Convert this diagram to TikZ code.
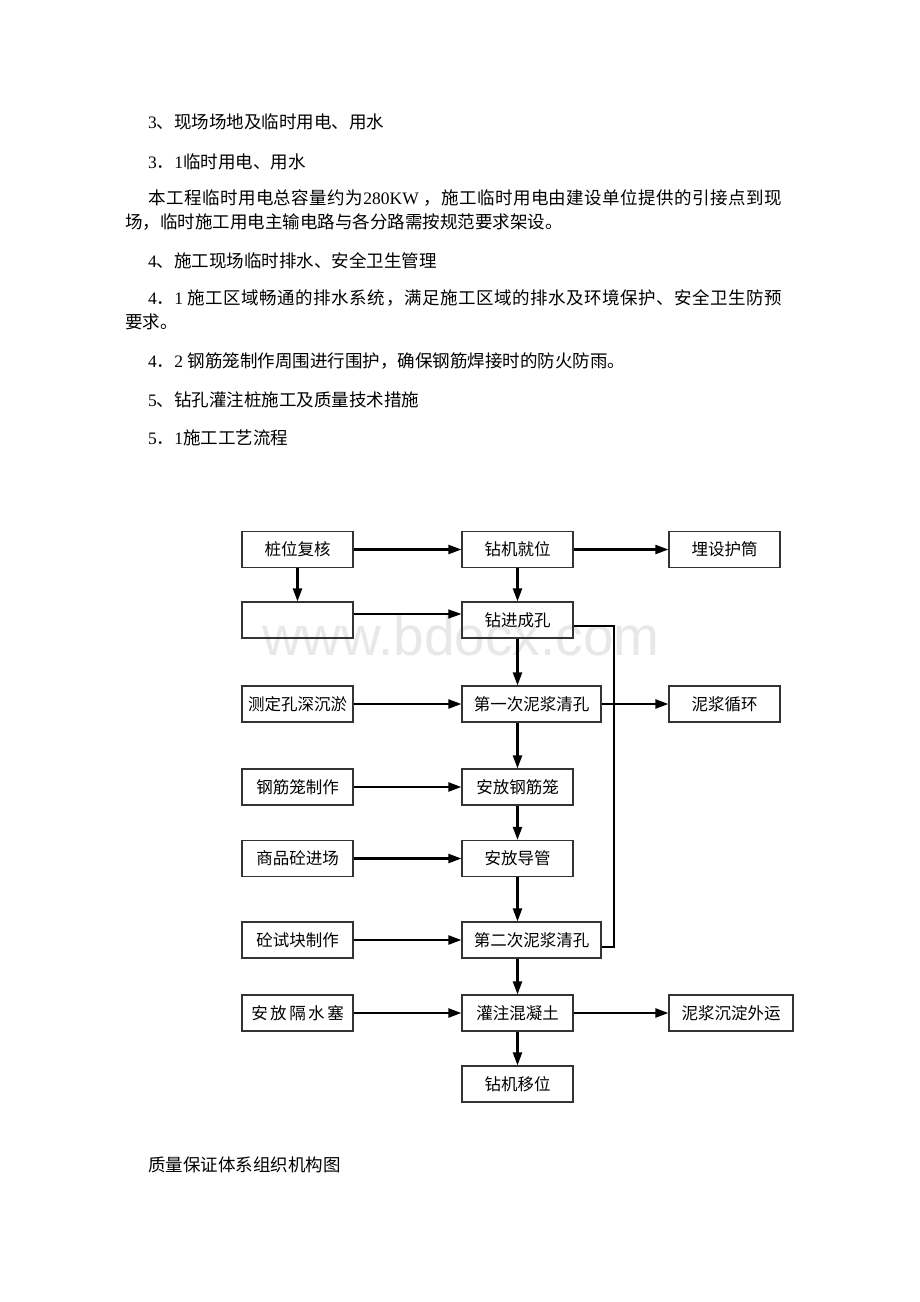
\documentclass[tikz,border=0pt]{standalone}
\usepackage{fontspec}
\setmainfont{Noto Sans CJK SC}
\newfontfamily\tnr{Liberation Serif}
\newfontfamily\wmfont{Liberation Sans}
\usetikzlibrary{arrows.meta}
\tikzset{
  flowbox/.style={draw=black!80, line width=1.2pt, minimum width=111pt, minimum height=36pt,
    inner sep=0pt, font=\fontsize{16.5}{18}\selectfont},
  widebox/.style={flowbox, minimum width=139pt},
  flowarr/.style={line width=2.2pt, -{Triangle[length=13pt,width=9pt]}},
  bodytext/.style={anchor=base west, inner sep=0pt, font=\fontsize{17.5}{20}\selectfont}
}
\begin{document}
\begin{tikzpicture}[x=1pt,y=-1pt]
\useasboundingbox[fill=white] (0,0) rectangle (920,1302);

\node[anchor=base west, inner sep=0pt, text=black!9, font=\wmfont\fontsize{55}{60}\selectfont]
  (wm) at (262,655) {www.bdocx.com};

\node[bodytext] (t1) at (148,128) {{\tnr 3}、现场场地及临时用电、用水};
\node[bodytext] (t2) at (148,168) {{\tnr 3}．{\tnr 1}临时用电、用水};
\node[bodytext] (t3) at (148,204) {\addfontfeature{LetterSpace=2.7}本工程临时用电总容量约为{\tnr 280KW }，施工临时用电由建设单位提供的引接点到现};
\node[bodytext] (t4) at (125,228) {场，临时施工用电主输电路与各分路需按规范要求架设。};
\node[bodytext] (t5) at (148,267) {{\tnr 4}、施工现场临时排水、安全卫生管理};
\node[bodytext] (t6) at (148,304) {\addfontfeature{LetterSpace=3.1}{\tnr 4}．{\tnr 1 }施工区域畅通的排水系统，满足施工区域的排水及环境保护、安全卫生防预};
\node[bodytext] (t7) at (125,328) {要求。};
\node[bodytext] (t8) at (148,367) {{\tnr 4}．{\tnr 2 }钢筋笼制作周围进行围护，确保钢筋焊接时的防火防雨。};
\node[bodytext] (t9) at (148,406) {{\tnr 5}、钻孔灌注桩施工及质量技术措施};
\node[bodytext] (t10) at (148,444) {{\tnr 5}．{\tnr 1}施工工艺流程};
\node[bodytext] (t11) at (148,1171) {质量保证体系组织机构图};

\node[flowbox] (zwfh) at (297.5,549.5) {桩位复核};
\node[flowbox] (zjjw) at (517.5,549.5) {钻机就位};
\node[flowbox] (mshtong) at (724.5,549.5) {埋设护筒};
\node[flowbox] (kong) at (297.5,620) {};
\node[flowbox] (zjch) at (517.5,620) {钻进成孔};
\node[flowbox] (cdks) at (297.5,704) {测定孔深沉淤};
\node[widebox] (qk1) at (531.5,704) {第一次泥浆清孔};
\node[flowbox] (njxh) at (724.5,704) {泥浆循环};
\node[flowbox] (gjlzz) at (297.5,787) {钢筋笼制作};
\node[flowbox] (afgjl) at (517.5,787) {安放钢筋笼};
\node[flowbox] (sptjc) at (297.5,858.5) {商品砼进场};
\node[flowbox] (afdg) at (517.5,858.5) {安放导管};
\node[flowbox] (sksk) at (297.5,940) {砼试块制作};
\node[widebox] (qk2) at (531.5,940) {第二次泥浆清孔};
\node[flowbox] (afgss) at (297.5,1013) {安\hspace{2.5pt}放\hspace{2.5pt}隔\hspace{2.5pt}水\hspace{2.5pt}塞};
\node[flowbox] (gzhnt) at (517.5,1013) {灌注混凝土};
\node[flowbox, minimum width=124pt] (njcd) at (731,1013) {泥浆沉淀外运};
\node[flowbox] (zjyw) at (517.5,1084) {钻机移位};

\draw[flowarr] (zwfh) -- (zjjw);
\draw[flowarr] (zjjw) -- (mshtong);
\draw[flowarr] (zwfh) -- (kong);
\draw[flowarr] (zjjw) -- (zjch);
\draw[line width=1.1pt, -{Triangle[length=13pt,width=9pt]}] ([yshift=6pt]kong.east) -- ([yshift=6pt]zjch.west);
\draw[flowarr] (zjch) -- (zjch |- qk1.north);
\draw[flowarr] (cdks) -- (qk1);
\draw[line width=2.2pt] ([yshift=-6pt]zjch.east) -- ++(40,0) |- ([yshift=-7pt]qk2.east);
\draw[flowarr] (qk1) -- (njxh);
\draw[flowarr] (qk1.south -| afgjl) -- (afgjl);
\draw[flowarr] (gjlzz) -- (afgjl);
\draw[flowarr] (afgjl) -- (afdg);
\draw[flowarr] (sptjc) -- (afdg);
\draw[flowarr] (afdg) -- (afdg |- qk2.north);
\draw[flowarr] (sksk) -- (qk2);
\draw[flowarr] (qk2.south -| gzhnt) -- (gzhnt);
\draw[flowarr] (afgss) -- (gzhnt);
\draw[flowarr] (gzhnt) -- (njcd);
\draw[flowarr] (gzhnt) -- (zjyw);
\end{tikzpicture}
\end{document}
